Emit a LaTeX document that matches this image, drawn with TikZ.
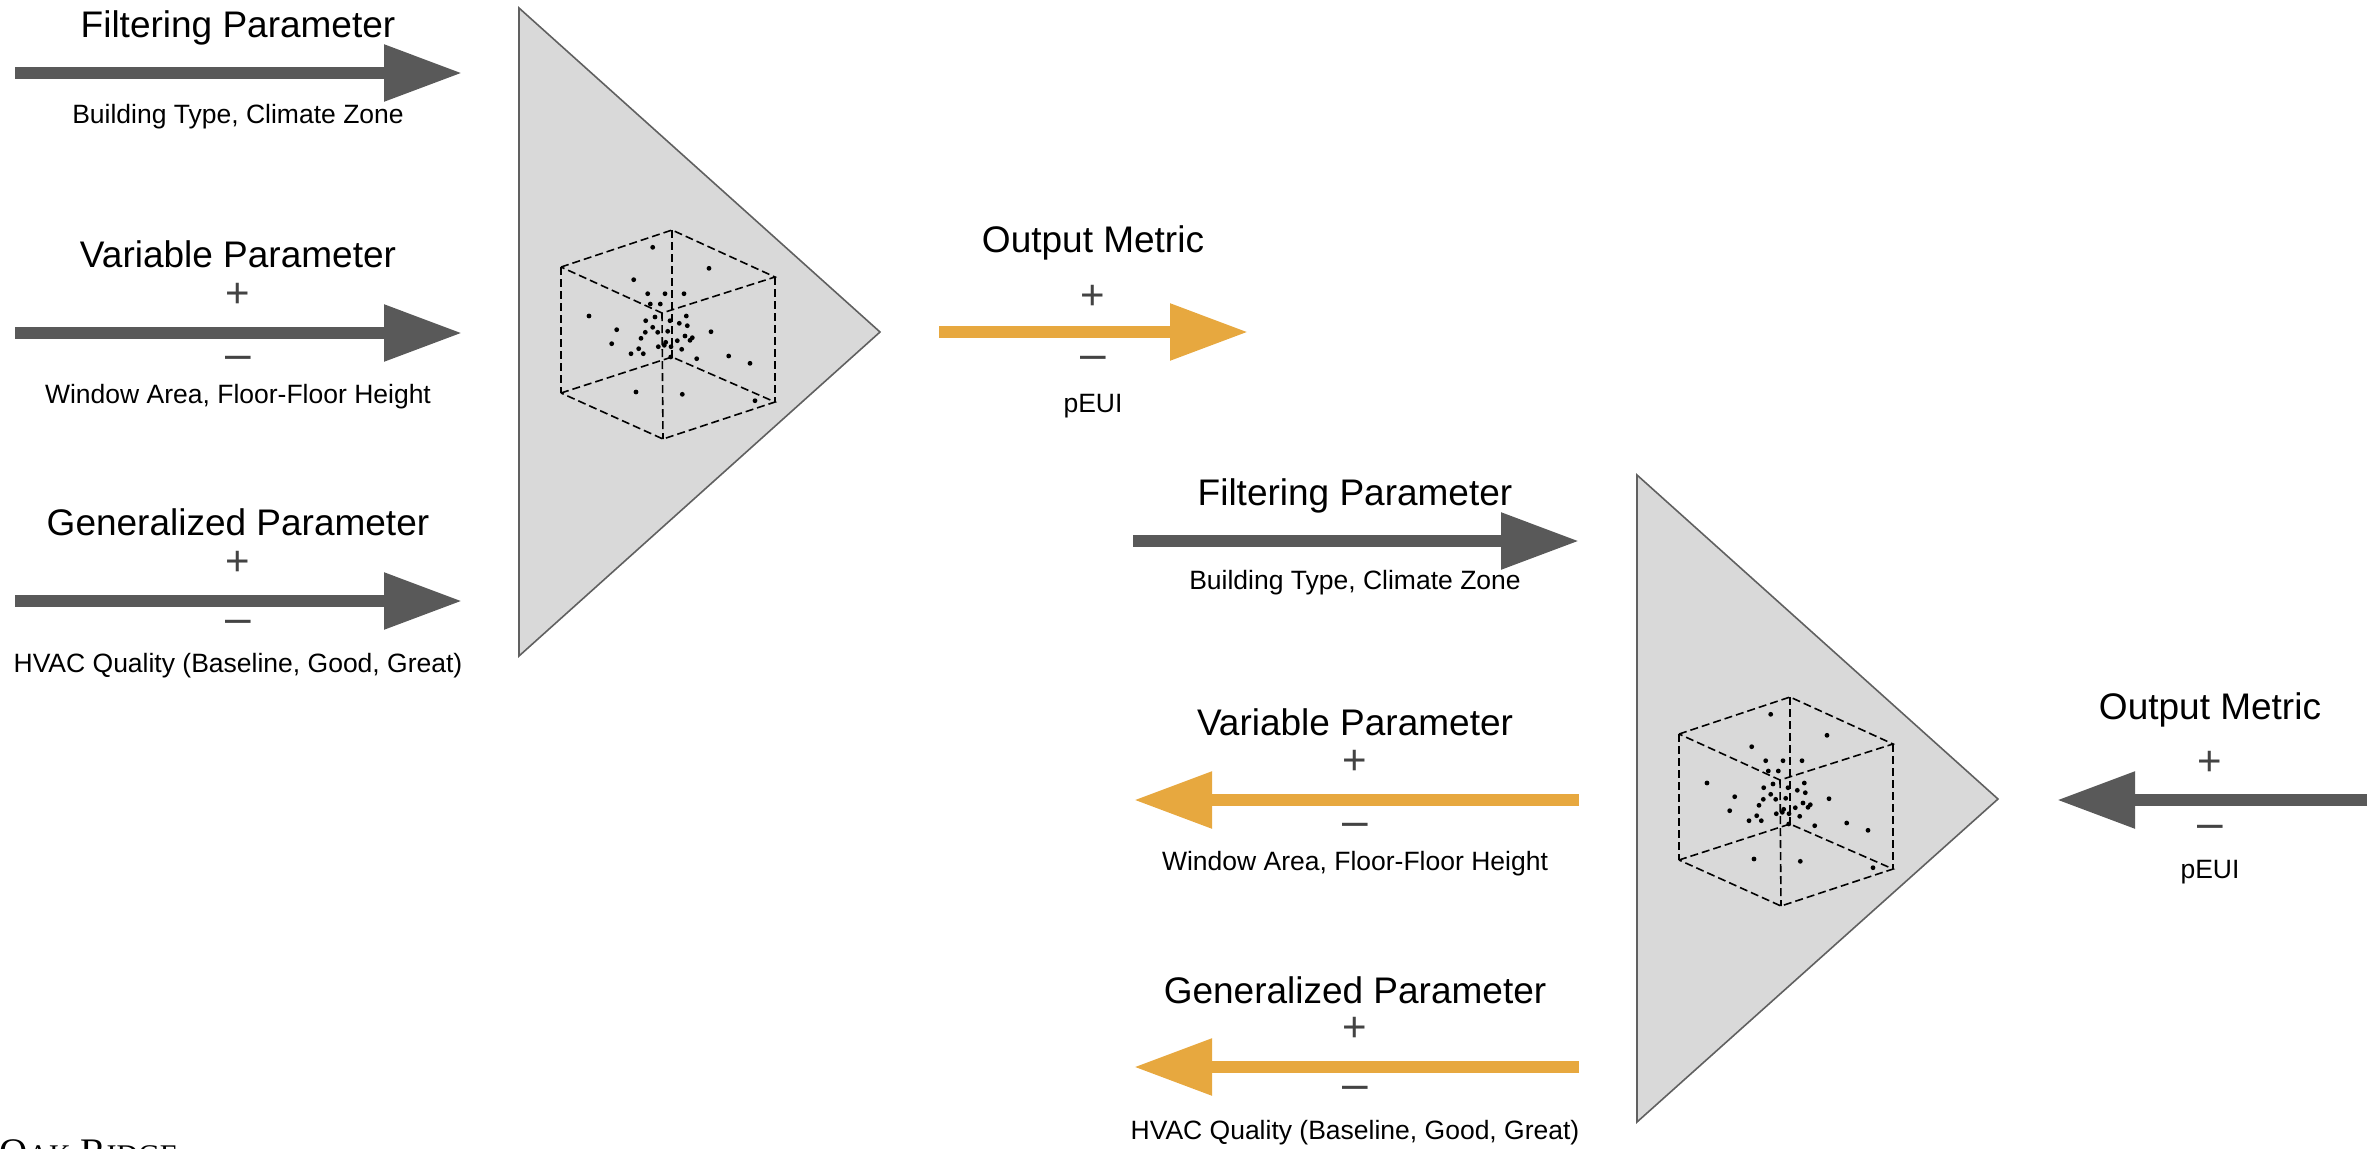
\documentclass[tikz,border=0pt]{standalone}
\usepackage{fontspec}
\setmainfont{Liberation Sans}
\newfontfamily\oakfont{Liberation Serif}
\usetikzlibrary{arrows.meta}
\definecolor{arrgray}{HTML}{595959}
\definecolor{arrorange}{HTML}{E7A83F}
\definecolor{trifill}{HTML}{D9D9D9}
\definecolor{triline}{HTML}{606060}
\definecolor{signgray}{HTML}{434343}
\tikzset{
  bigtxt/.style={anchor=base, inner sep=0pt, font=\fontsize{18.5}{22}\selectfont},
  smalltxt/.style={anchor=base, inner sep=0pt, font=\fontsize{13.25}{16}\selectfont},
  plussign/.style={anchor=center, inner sep=0pt, text=signgray, font=\fontsize{21}{24}\selectfont},
  minussign/.style={anchor=center, inner sep=0pt, text=signgray, font=\fontsize{23}{26}\selectfont},
  grayarrow/.style={draw=arrgray, line width=6pt, -{Triangle[length=39pt,width=27pt]}},
  orangearrow/.style={draw=arrorange, line width=6pt, -{Triangle[length=39pt,width=27pt]}},
  tri/.style={draw=triline, fill=trifill, line width=0.8pt, line join=miter},
  cubeedge/.style={draw=black, line width=0.8pt, dash pattern=on 4pt off 2pt},
  dotmark/.style={fill=black}
}
\begin{document}
\begin{tikzpicture}[x=0.5pt, y=-0.5pt]
\useasboundingbox (0,0) rectangle (2374,1148);
\clip (0,0) rectangle (2374,1148);

% ---------- triangles ----------
\coordinate (t1a) at (519,8);
\coordinate (t1b) at (880,332);
\coordinate (t1c) at (519,656);
\draw[tri] (t1a) -- (t1b) -- (t1c) -- cycle;
\coordinate (t2a) at (1637,475);
\coordinate (t2b) at (1998,799);
\coordinate (t2c) at (1637,1122);
\draw[tri] (t2a) -- (t2b) -- (t2c) -- cycle;

% ---------- cubes with points ----------
\foreach \sx/\sy/\nm in {0/0/c1, 1118/467/c2}{
\begin{scope}[shift={(\sx,\sy)}]
  \coordinate (\nm T) at (672,230);
  \coordinate (\nm UL) at (561,267);
  \coordinate (\nm UR) at (775,277);
  \coordinate (\nm C) at (662,313);
  \coordinate (\nm LL) at (561,393);
  \coordinate (\nm LR) at (775,402);
  \coordinate (\nm B) at (663,439);
  \coordinate (\nm H) at (672,357);
  \draw[cubeedge] (\nm UL) -- (\nm T) -- (\nm UR) -- (\nm C) -- cycle;
  \draw[cubeedge] (\nm LL) -- (\nm H) -- (\nm LR) -- (\nm B) -- cycle;
  \draw[cubeedge] (\nm UL) -- (\nm LL);
  \draw[cubeedge] (\nm UR) -- (\nm LR);
  \draw[cubeedge] (\nm T) -- (\nm H);
  \draw[cubeedge] (\nm C) -- (\nm B);
  \foreach \px/\py in {652.7/247.3, 709/268.3, 633.7/279.7, 647.7/293.7, 665/293.7,
    684/293.7, 650.3/304, 660.3/304, 589/316, 655/317, 686.3/316, 645.7/320.7,
    670/320.7, 679.3/323.3, 687.3/325.7, 616.7/329.7, 652.7/327.3, 645.3/332.3,
    657.7/332.3, 667.7/331.3, 711/331.7, 641/338.3, 685/336, 692.3/337.7,
    690/340.3, 611.7/343.7, 677.3/340.7, 665.7/342.3, 664.3/345.3, 658.3/346.7,
    671/346.7, 681.7/349.3, 638.7/348.7, 631/353.7, 643.3/353.7, 670.7/357,
    696.7/358.7, 728.7/356, 750/363.3, 636/392, 682.3/394.3, 755/400.7}
    \fill[dotmark] (\px,\py) circle (1.2pt);
\end{scope}
}

% ---------- left group ----------
% Filtering
\coordinate (a1s) at (15,73);  \coordinate (a1e) at (462,73);
\draw[grayarrow] (a1s) -- (a1e);
\node[bigtxt] (a1title) at (238,37) {Filtering Parameter};
\node[smalltxt] (a1lab) at (238,123) {Building Type, Climate Zone};
% Variable
\coordinate (a2s) at (15,333);  \coordinate (a2e) at (462,333);
\draw[grayarrow] (a2s) -- (a2e);
\node[bigtxt] (a2title) at (238,267) {Variable Parameter};
\node[plussign] (a2plus) at (238,295) {+};
\node[minussign] (a2minus) at (238,363) {–};
\node[smalltxt] (a2lab) at (238,403) {Window Area, Floor-Floor Height};
% Generalized
\coordinate (a3s) at (15,601);  \coordinate (a3e) at (462,601);
\draw[grayarrow] (a3s) -- (a3e);
\node[bigtxt] (a3title) at (238,535) {Generalized Parameter};
\node[plussign] (a3plus) at (238,563) {+};
\node[minussign] (a3minus) at (238,627) {–};
\node[smalltxt] (a3lab) at (238,672) {HVAC Quality (Baseline, Good, Great)};

% ---------- middle output ----------
\coordinate (m1s) at (939,332);  \coordinate (m1e) at (1248,332);
\draw[orangearrow] (m1s) -- (m1e);
\node[bigtxt] (m1title) at (1093,252) {Output Metric};
\node[plussign] (m1plus) at (1093,297) {+};
\node[minussign] (m1minus) at (1093,363) {–};
\node[smalltxt] (m1lab) at (1093,412) {pEUI};

% ---------- bottom group ----------
\coordinate (b1s) at (1133,541);  \coordinate (b1e) at (1579,541);
\draw[grayarrow] (b1s) -- (b1e);
\node[bigtxt] (b1title) at (1355,505) {Filtering Parameter};
\node[smalltxt] (b1lab) at (1355,589) {Building Type, Climate Zone};

\coordinate (b2s) at (1579,800);  \coordinate (b2e) at (1134,800);
\draw[orangearrow] (b2s) -- (b2e);
\node[bigtxt] (b2title) at (1355,735) {Variable Parameter};
\node[plussign] (b2plus) at (1355,762) {+};
\node[minussign] (b2minus) at (1355,830) {–};
\node[smalltxt] (b2lab) at (1355,870) {Window Area, Floor-Floor Height};

\coordinate (b3s) at (1579,1067);  \coordinate (b3e) at (1134,1067);
\draw[orangearrow] (b3s) -- (b3e);
\node[bigtxt] (b3title) at (1355,1003) {Generalized Parameter};
\node[plussign] (b3plus) at (1355,1029) {+};
\node[minussign] (b3minus) at (1355,1093) {–};
\node[smalltxt] (b3lab) at (1355,1139) {HVAC Quality (Baseline, Good, Great)};

% ---------- right output ----------
\coordinate (r1s) at (2367,800);  \coordinate (r1e) at (2057,800);
\draw[grayarrow] (r1s) -- (r1e);
\node[bigtxt] (r1title) at (2210,719) {Output Metric};
\node[plussign] (r1plus) at (2210,763) {+};
\node[minussign] (r1minus) at (2210,832) {–};
\node[smalltxt] (r1lab) at (2210,878) {pEUI};

% ---------- cut-off logo text (cut off in the reference as well) ----------
\node[anchor=base west, inner sep=0pt, font=\oakfont\fontsize{19.5}{22}\selectfont] (oak) at (-1,1165)
  {O{\fontsize{15}{18}\selectfont AK} R{\fontsize{15}{18}\selectfont IDGE}};
\end{tikzpicture}
\end{document}
